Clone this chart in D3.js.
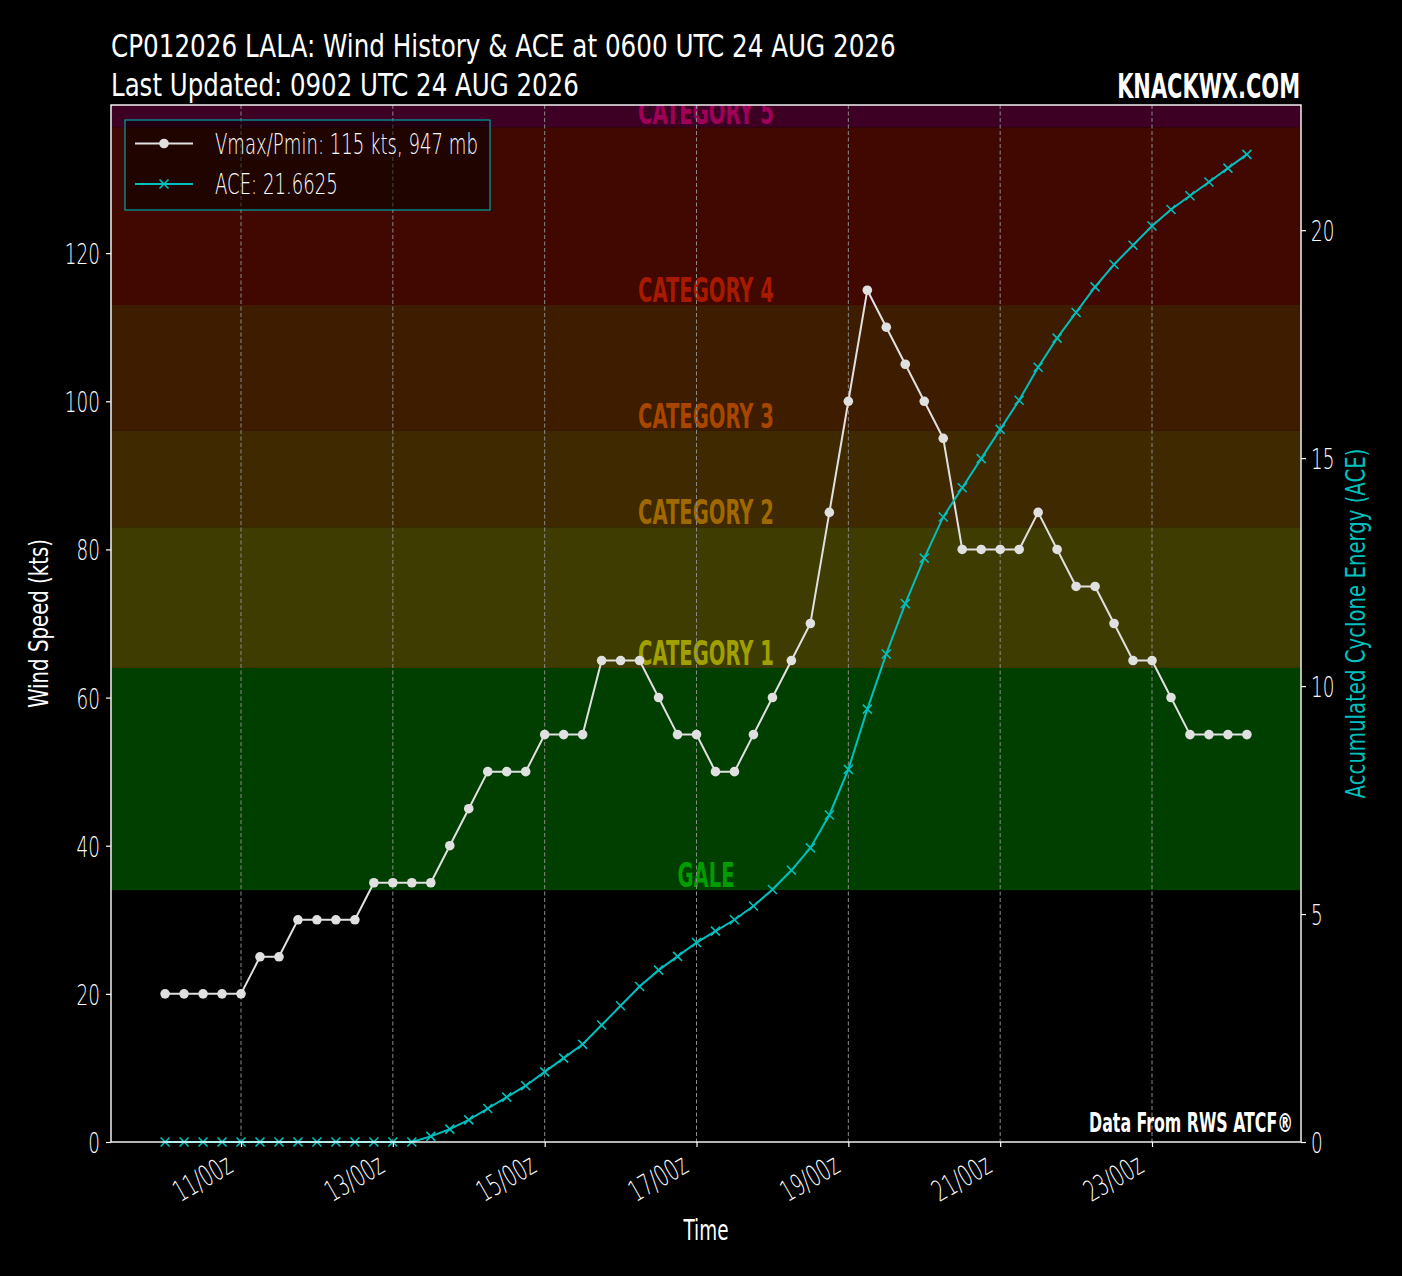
<!DOCTYPE html>
<html><head><meta charset="utf-8">
<script src="https://cdn.jsdelivr.net/npm/d3@7"></script>
<style>
html,body{margin:0;padding:0;background:#000;}
svg{display:block;}
</style></head><body>
<svg id="c" width="1402" height="1276"></svg>
<script>
// ---------------- DATA ----------------
const startTime = "2026-08-10T00:00:00Z";
const endTime   = "2026-08-24T06:00:00Z";
const windKts = [20,20,20,20,20,25,25,30,30,30,30,35,35,35,35,40,45,50,50,50,
                 55,55,55,65,65,65,60,55,55,50,50,55,60,65,70,85,100,115,110,105,
                 100,95,80,80,80,80,85,80,75,75,70,65,65,60,55,55,55,55];
const aceValues = [0,0,0,0,0,0,0,0,0,0,0,0,0,0,0.1225,0.2825,0.485,0.735,0.985,1.235,
                   1.5375,1.84,2.1425,2.565,2.9875,3.41,3.77,4.0725,4.375,4.625,4.875,5.1775,5.5375,5.96,6.45,7.1725,8.1725,9.495,10.705,11.8075,
                   12.8075,13.71,14.35,14.99,15.63,16.27,16.9925,17.6325,18.195,18.7575,19.2475,19.67,20.0925,20.4525,20.755,21.0575,21.36,21.6625];
const categoryNames = ["GALE","CATEGORY 1","CATEGORY 2","CATEGORY 3","CATEGORY 4","CATEGORY 5"];
const categoryThresholds = [34,64,83,96,113,137];
const bandColors  = ["#003f00","#3e3c00","#3f2900","#3e1c00","#400800","#3d0024"];
const labelColors = ["#009c00","#a0a000","#a06800","#a84600","#a81a00","#a0005a"];
const windTicks = [0,20,40,60,80,100,120];
const aceTicks  = [0,5,10,15,20];
const timeTicks = ["2026-08-11","2026-08-13","2026-08-15","2026-08-17","2026-08-19","2026-08-21","2026-08-23"];
const titleLine1 = "CP012026 LALA: Wind History & ACE at 0600 UTC 24 AUG 2026";
const titleLine2 = "Last Updated: 0902 UTC 24 AUG 2026";
const legendWind = "Vmax/Pmin: 115 kts, 947 mb";
const legendAce  = "ACE: 21.6625";

// ---------------- LAYOUT ----------------
const L = 111, R = 1301, T = 105, B = 1142;
const FONT = "'Liberation Sans Narrow','DejaVu Sans Condensed','DejaVu Sans',sans-serif";
const LIGHT = "'DejaVu Sans',sans-serif";
const svg = d3.select("#c");
svg.append("rect").attr("width",1402).attr("height",1276).attr("fill","#000");

const times = d3.utcHours(new Date(startTime), d3.utcHour.offset(new Date(endTime),1), 6);
const t0 = times[0], t1 = times[times.length-1];
const span = t1 - t0, pad = span*0.05;
const x = d3.scaleUtc().domain([new Date(+t0-pad), new Date(+t1+pad)]).range([L,R]);
const y = d3.scaleLinear().domain([0,140]).range([B,T]);
const y2 = d3.scaleLinear().domain([0, d3.max(aceValues)*1.05]).range([B,T]);

svg.append("clipPath").attr("id","plot").append("rect").attr("x",L).attr("y",T).attr("width",R-L).attr("height",B-T);
const plot = svg.append("g").attr("clip-path","url(#plot)");

// bands
const tops = categoryThresholds.slice(1).concat([140]);
plot.selectAll("rect.band").data(categoryThresholds).join("rect")
  .attr("x",L).attr("width",R-L)
  .attr("y",(d,i)=>y(tops[i])).attr("height",(d,i)=>y(d)-y(tops[i]))
  .attr("fill",(d,i)=>bandColors[i]);

function placeText(parent, px, py, str, o){
  const g = parent.append("g").attr("transform",`translate(${px},${py})${o.rot?` rotate(${o.rot})`:""}`);
  const t = g.append("text").text(str)
    .attr("font-family",o.family||FONT).attr("font-size",o.size).attr("font-weight",o.weight||"normal")
    .attr("fill",o.fill||"#fff").attr("text-anchor",o.anchor||"start");
  let s = o.sx || 1;
  if(o.width) s = o.width / t.node().getComputedTextLength();
  t.attr("transform",`scale(${s},1)`);
  return {g,t,s};
}

// category labels
const refLab = placeText(plot, -500, -500, "CATEGORY 4", {size:33, weight:"bold", width:136});
const catSx = refLab.s; refLab.g.remove();
categoryThresholds.forEach((th,i)=>{
  placeText(plot, (L+R)/2, y(th+2)+11.5, categoryNames[i], {size:33, weight:"bold", anchor:"middle", sx:catSx, fill:labelColors[i]});
});

// vertical grid
plot.selectAll("line.grid").data(timeTicks).join("line")
  .attr("x1",d=>x(new Date(d+"T00:00:00Z"))).attr("x2",d=>x(new Date(d+"T00:00:00Z")))
  .attr("y1",T).attr("y2",B)
  .attr("stroke","#8a8a8a").attr("stroke-width",1).attr("stroke-dasharray","4,2.5");

// wind line
const wData = times.map((t,i)=>({t, v:windKts[i]}));
plot.append("path").datum(wData)
  .attr("d", d3.line().x(d=>x(d.t)).y(d=>y(d.v)))
  .attr("fill","none").attr("stroke","#e0e0e0").attr("stroke-width",2);
plot.selectAll("circle.w").data(wData).join("circle")
  .attr("cx",d=>x(d.t)).attr("cy",d=>y(d.v)).attr("r",4.8).attr("fill","#e0e0e0");

// ACE line
const aData = times.map((t,i)=>({t, v:aceValues[i]}));
const gAce = svg.append("g");
gAce.append("path").datum(aData)
  .attr("d", d3.line().x(d=>x(d.t)).y(d=>y2(d.v)))
  .attr("fill","none").attr("stroke","#00bfbf").attr("stroke-width",2);
const xm = "M-4.5,-4.5L4.5,4.5M-4.5,4.5L4.5,-4.5";
gAce.selectAll("path.m").data(aData).join("path")
  .attr("transform",d=>`translate(${x(d.t)},${y2(d.v)})`)
  .attr("d",xm).attr("stroke","#00bfbf").attr("stroke-width",1.6).attr("fill","none");

// axes
const lightSx = 0.635, lightSize = 29;
function styleAxis(g){
  g.select(".domain").remove();
  g.selectAll(".tick line").attr("stroke","#fff").attr("stroke-width",1.2);
  g.selectAll(".tick text").attr("fill","#fff").attr("font-family",LIGHT).attr("font-size",lightSize).attr("font-weight",200);
}
const gl = svg.append("g").attr("transform",`translate(${L},0)`)
  .call(d3.axisLeft(y).tickValues(windTicks).tickSize(5).tickPadding(7));
styleAxis(gl);
gl.selectAll(".tick text").attr("transform",`scale(${lightSx},1)`).attr("x",-11/lightSx).attr("dy","0.36em");

const gr = svg.append("g").attr("transform",`translate(${R},0)`)
  .call(d3.axisRight(y2).tickValues(aceTicks).tickSize(5).tickPadding(7));
styleAxis(gr);
gr.selectAll(".tick text").attr("transform",`scale(${lightSx},1)`).attr("x",10/lightSx).attr("dy","0.36em");

const gb = svg.append("g").attr("transform",`translate(0,${B})`)
  .call(d3.axisBottom(x).tickValues(timeTicks.map(d=>new Date(d+"T00:00:00Z"))).tickFormat(d3.utcFormat("%d/%Hz")).tickSize(5));
styleAxis(gb);
gb.selectAll(".tick text").attr("text-anchor","end").attr("x",0).attr("y",0).attr("dy",0)
  .attr("transform",`translate(-7,29) rotate(-30) scale(${lightSx},1)`);

// spines
svg.append("rect").attr("x",L).attr("y",T).attr("width",R-L).attr("height",B-T)
  .attr("fill","none").attr("stroke","#fff").attr("stroke-width",1.4);

// legend
const lg = svg.append("g");
lg.append("rect").attr("x",125).attr("y",120).attr("width",365).attr("height",90)
  .attr("fill","#000").attr("fill-opacity",0.5).attr("stroke","#00a4a4").attr("stroke-width",1.2);
lg.append("line").attr("x1",135).attr("x2",193).attr("y1",143.5).attr("y2",143.5).attr("stroke","#e0e0e0").attr("stroke-width",2);
lg.append("circle").attr("cx",164).attr("cy",143.5).attr("r",4.8).attr("fill","#e0e0e0");
lg.append("line").attr("x1",135).attr("x2",193).attr("y1",184).attr("y2",184).attr("stroke","#00bfbf").attr("stroke-width",2);
lg.append("path").attr("transform","translate(164,184)").attr("d",xm).attr("stroke","#00bfbf").attr("stroke-width",1.6);
const lw = placeText(lg, 215, 153.5, legendWind, {size:28, weight:200, family:LIGHT, width:263});
placeText(lg, 215, 193.5, legendAce, {size:28, weight:200, family:LIGHT, sx:lw.s});

// titles
placeText(svg, 111, 57, titleLine1, {size:32, width:785});
placeText(svg, 111, 96, titleLine2, {size:32, width:468});
placeText(svg, 1300, 98, "KNACKWX.COM", {size:34, weight:"bold", anchor:"end", width:183});
placeText(svg, 1293, 1132, "Data From RWS ATCF®", {size:26, weight:"bold", anchor:"end", width:204});

// axis labels
placeText(svg, 48, (T+B)/2, "Wind Speed (kts)", {size:27, anchor:"middle", rot:-90, width:169});
placeText(svg, 1365, (T+B)/2, "Accumulated Cyclone Energy (ACE)", {size:27, anchor:"middle", rot:-90, width:350, fill:"#00bfbf"});
placeText(svg, (L+R)/2, 1240, "Time", {size:28, anchor:"middle", width:45});
</script>
</body></html>
